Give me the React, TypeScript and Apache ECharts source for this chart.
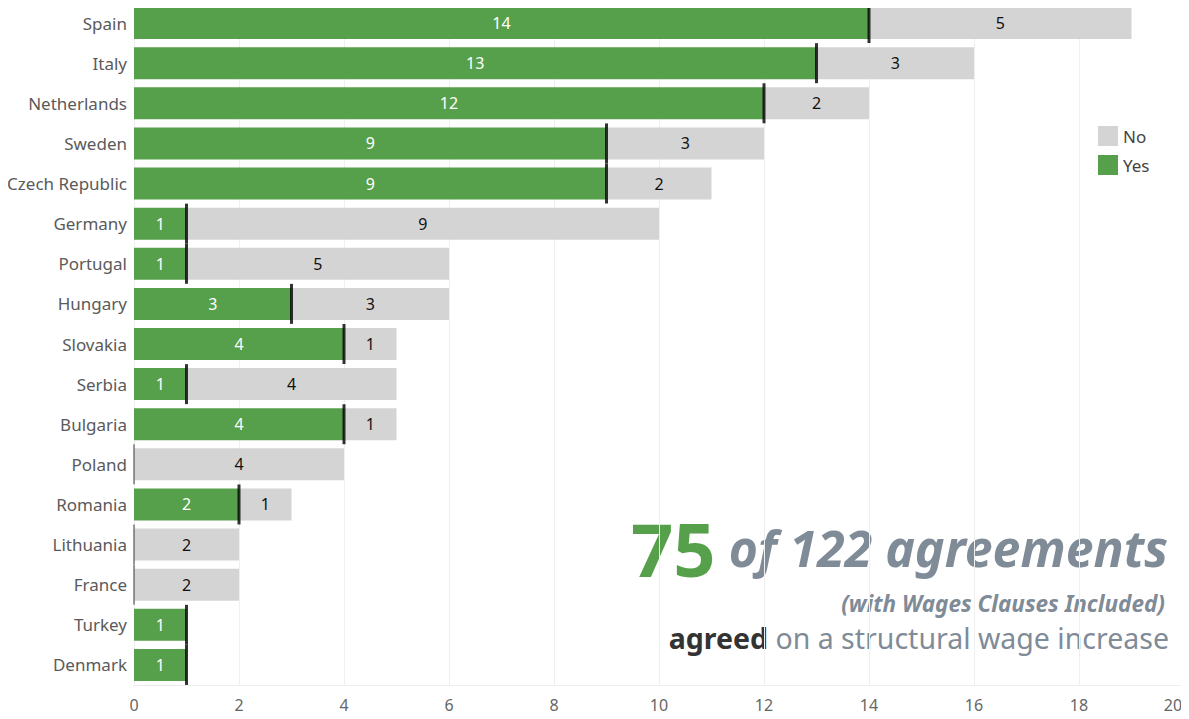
import React, { useEffect, useRef } from "react";
import * as echarts from "echarts";

const countries = [
  "Spain", "Italy", "Netherlands", "Sweden", "Czech Republic", "Germany", "Portugal",
  "Hungary", "Slovakia", "Serbia", "Bulgaria", "Poland", "Romania", "Lithuania",
  "France", "Turkey", "Denmark",
];
const yesValues = [14, 13, 12, 9, 9, 1, 1, 3, 4, 1, 4, 0, 2, 0, 0, 1, 1];
const noValues = [5, 3, 2, 3, 2, 9, 5, 3, 1, 4, 1, 4, 1, 2, 2, 0, 0];
const xTicks = { min: 0, max: 20, interval: 2 };

const GREEN = "#57a04b";
const GRAY = "#d4d4d4";
const FONT = "'Noto Sans', sans-serif";

export default function App() {
  const ref = useRef<HTMLDivElement>(null);
  useEffect(() => {
    if (!ref.current) return;
    const chart = echarts.init(ref.current, null, { renderer: "svg" });
    const totalYes = yesValues.reduce((a, b) => a + b, 0);
    const total = totalYes + noValues.reduce((a, b) => a + b, 0);
    chart.setOption({
      animation: false,
      textStyle: { fontFamily: FONT },
      grid: { left: 134, right: 5, top: 3, bottom: 34, containLabel: false },
      legend: {
        data: [
          { name: "No", icon: "rect" },
          { name: "Yes", icon: "rect" },
        ],
        orient: "vertical",
        left: 1093,
        top: 121,
        itemWidth: 20,
        itemHeight: 20,
        itemGap: 9,
        textStyle: { fontSize: 17, color: "#444", fontFamily: FONT },
      },
      xAxis: {
        type: "value",
        min: xTicks.min,
        max: xTicks.max,
        interval: xTicks.interval,
        axisLine: { show: true, lineStyle: { color: "#eeeeee" } },
        axisTick: { show: false },
        splitLine: { show: true, lineStyle: { color: "#efefef", width: 1 } },
        axisLabel: {
          color: "#666",
          fontSize: 16,
          margin: 12,
          fontFamily: FONT,
          formatter: (v: number) => (v === xTicks.max ? `{r|${v}}` : String(v)),
          rich: { r: { color: "#666", fontSize: 16, fontFamily: FONT, padding: [0, 22, 0, 0] } },
        },
      },
      yAxis: {
        type: "category",
        data: countries,
        inverse: true,
        axisLine: { show: false },
        axisTick: { show: false },
        axisLabel: { color: "#5a5a5a", fontSize: 17, margin: 7, fontFamily: FONT },
      },
      series: [
        {
          name: "Yes",
          type: "bar",
          stack: "total",
          barWidth: 32,
          itemStyle: { color: GREEN },
          label: {
            show: true,
            position: "inside",
            color: "#fff",
            fontSize: 16,
            fontFamily: FONT,
            formatter: (p: any) => (p.value ? String(p.value) : ""),
          },
          data: yesValues,
        },
        {
          name: "No",
          type: "bar",
          stack: "total",
          barWidth: 32,
          itemStyle: { color: GRAY },
          label: {
            show: true,
            position: "inside",
            color: "#111",
            fontSize: 16,
            fontFamily: FONT,
            formatter: (p: any) => (p.value ? String(p.value) : ""),
          },
          data: noValues,
        },
        {
          name: "marker",
          type: "scatter",
          symbol: "rect",
          z: 5,
          silent: true,
          clip: false,
          data: yesValues.map((v, i) => ({
            value: [v, countries[i]],
            symbolSize: v === 0 ? [1.5, 40] : [3, 40],
            itemStyle: { color: v === 0 ? "#555" : "#000" },
          })),
        },
      ],
      graphic: [
        {
          type: "text",
          right: 21,
          top: 511,
          style: {
            text: `{big|${totalYes}}{rest| of ${total} agreements}`,
            rich: {
              big: { fontSize: 74, fontWeight: "bold", fill: GREEN, fontFamily: FONT },
              rest: { fontSize: 50, fontWeight: "bold", fontStyle: "italic", fill: "#7f8b97", fontFamily: FONT },
            },
          },
        },
        {
          type: "text",
          right: 24,
          top: 592,
          style: {
            text: "(with Wages Clauses Included)",
            fontSize: 22.5,
            fontWeight: "bold",
            fontStyle: "italic",
            fill: "#7f8b97",
            fontFamily: FONT,
          },
        },
        {
          type: "text",
          right: 20,
          top: 623,
          style: {
            text: "{b|agreed}{r| on a structural wage increase}",
            rich: {
              b: { fontSize: 28.5, fontWeight: "bold", fill: "#333", fontFamily: FONT },
              r: { fontSize: 28.5, fill: "#7f8b97", fontFamily: FONT },
            },
          },
        },
      ],
    });
    return () => chart.dispose();
  }, []);
  return <div ref={ref} style={{ width: 1189, height: 719, margin: -8 }} />;
}
